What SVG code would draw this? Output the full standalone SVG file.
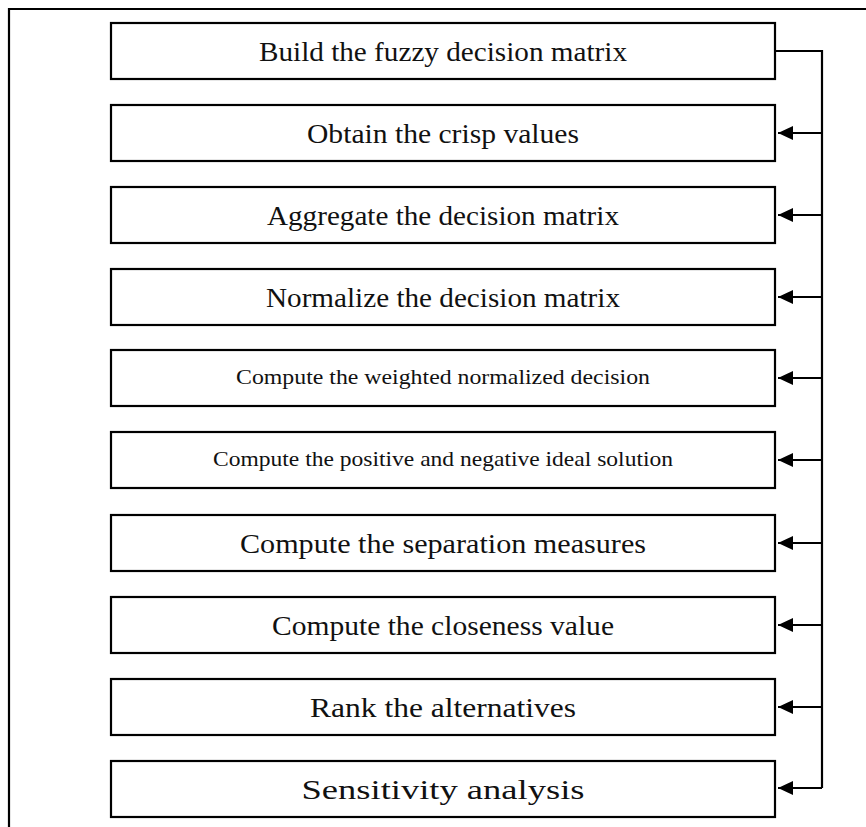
<svg xmlns="http://www.w3.org/2000/svg" width="866" height="827" viewBox="0 0 866 827">
<defs>
<marker id="ah" markerWidth="16" markerHeight="16" refX="15" refY="7" orient="auto" markerUnits="userSpaceOnUse">
<path d="M0,0 L15,7 L0,14 Z" fill="#000"/>
</marker>
<style>
.box{fill:#fff;stroke:#000;stroke-width:2.2}
.t{font-family:"Liberation Serif","Times New Roman",serif;font-size:27px;fill:#111;text-anchor:middle}
.s{font-size:22px}
.c{fill:none;stroke:#000;stroke-width:2.2}
</style>
</defs>
<rect width="866" height="827" fill="#fff"/>
<path d="M9,827 V9 H866" fill="none" stroke="#000" stroke-width="2.2"/>
<g id="n1"><rect class="box" x="111" y="23" width="664" height="56"/><text class="t" x="443" y="61" textLength="368" lengthAdjust="spacingAndGlyphs">Build the fuzzy decision matrix</text></g>
<g id="n2"><rect class="box" x="111" y="105" width="664" height="56"/><text class="t" x="443" y="143" textLength="272" lengthAdjust="spacingAndGlyphs">Obtain the crisp values</text></g>
<g id="n3"><rect class="box" x="111" y="187" width="664" height="56"/><text class="t" x="443" y="225" textLength="352" lengthAdjust="spacingAndGlyphs">Aggregate the decision matrix</text></g>
<g id="n4"><rect class="box" x="111" y="269" width="664" height="56"/><text class="t" x="443" y="307" textLength="354" lengthAdjust="spacingAndGlyphs">Normalize the decision matrix</text></g>
<g id="n5"><rect class="box" x="111" y="350" width="664" height="56"/><text class="t s" x="443" y="384" textLength="414" lengthAdjust="spacingAndGlyphs">Compute the weighted normalized decision</text></g>
<g id="n6"><rect class="box" x="111" y="432" width="664" height="56"/><text class="t s" x="443" y="466" textLength="460" lengthAdjust="spacingAndGlyphs">Compute the positive and negative ideal solution</text></g>
<g id="n7"><rect class="box" x="111" y="515" width="664" height="56"/><text class="t" x="443" y="553" textLength="406" lengthAdjust="spacingAndGlyphs">Compute the separation measures</text></g>
<g id="n8"><rect class="box" x="111" y="597" width="664" height="56"/><text class="t" x="443" y="635" textLength="342" lengthAdjust="spacingAndGlyphs">Compute the closeness value</text></g>
<g id="n9"><rect class="box" x="111" y="679" width="664" height="56"/><text class="t" x="443" y="717" textLength="266" lengthAdjust="spacingAndGlyphs">Rank the alternatives</text></g>
<g id="n10"><rect class="box" x="111" y="761" width="664" height="56"/><text class="t" x="443" y="799" textLength="283" lengthAdjust="spacingAndGlyphs">Sensitivity analysis</text></g>
<g id="connectors">
<path class="c" d="M775,51 H822 V788"/>
<line class="c" x1="822" y1="133" x2="778" y2="133" marker-end="url(#ah)"/>
<line class="c" x1="822" y1="215" x2="778" y2="215" marker-end="url(#ah)"/>
<line class="c" x1="822" y1="297" x2="778" y2="297" marker-end="url(#ah)"/>
<line class="c" x1="822" y1="378" x2="778" y2="378" marker-end="url(#ah)"/>
<line class="c" x1="822" y1="460" x2="778" y2="460" marker-end="url(#ah)"/>
<line class="c" x1="822" y1="543" x2="778" y2="543" marker-end="url(#ah)"/>
<line class="c" x1="822" y1="625" x2="778" y2="625" marker-end="url(#ah)"/>
<line class="c" x1="822" y1="707" x2="778" y2="707" marker-end="url(#ah)"/>
<line class="c" x1="822" y1="788" x2="778" y2="788" marker-end="url(#ah)"/>
</g>
</svg>
